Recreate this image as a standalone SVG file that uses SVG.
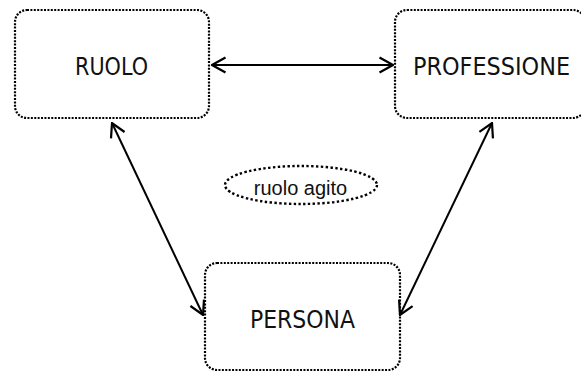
<svg xmlns="http://www.w3.org/2000/svg" width="581" height="374" viewBox="0 0 581 374">
  <style>
    .box { fill: #ffffff; stroke: #000000; stroke-width: 2.2; stroke-dasharray: 2 1.4; }
    .oval { fill: #ffffff; stroke: #000000; stroke-width: 2.4; stroke-dasharray: 2.4 2.4; }
    .label { font-family: "DejaVu Sans Condensed", "DejaVu Sans", sans-serif; font-stretch: condensed; font-size: 24px; fill: #111111; text-anchor: middle; }
    .small { font-family: "Liberation Sans", Arial, sans-serif; font-size: 20px; fill: #111111; text-anchor: middle; }
    .link { fill: none; stroke: #000000; stroke-width: 2; marker-start: url(#head); marker-end: url(#head); }
  </style>
  <defs>
    <marker id="head" viewBox="0 0 16 18" refX="15" refY="9" markerWidth="16" markerHeight="18" markerUnits="userSpaceOnUse" orient="auto-start-reverse">
      <path d="M1.5,1.5 L15,9 L1.5,16.5" fill="none" stroke="#000000" stroke-width="2.2"/>
    </marker>
  </defs>

  <g id="ruolo">
    <rect class="box" x="15" y="10" width="194" height="108" rx="12" ry="12"/>
    <text class="label" x="111.5" y="75" textLength="73" lengthAdjust="spacingAndGlyphs">RUOLO</text>
  </g>

  <g id="professione">
    <rect class="box" x="395" y="10" width="190" height="108" rx="12" ry="12"/>
    <text class="label" x="491.5" y="75" textLength="157" lengthAdjust="spacingAndGlyphs">PROFESSIONE</text>
  </g>

  <g id="persona">
    <rect class="box" x="205" y="263" width="195" height="107" rx="12" ry="12"/>
    <text class="label" x="302.5" y="328" textLength="105" lengthAdjust="spacingAndGlyphs">PERSONA</text>
  </g>

  <g id="ruolo-agito">
    <ellipse class="oval" cx="301" cy="185" rx="76" ry="19"/>
    <text class="small" x="300.5" y="195">ruolo agito</text>
  </g>

  <g id="connectors">
    <line class="link" x1="212" y1="65" x2="393" y2="65"/>
    <line class="link" x1="112" y1="123" x2="203" y2="315"/>
    <line class="link" x1="492" y1="123" x2="400" y2="315"/>
  </g>
</svg>
